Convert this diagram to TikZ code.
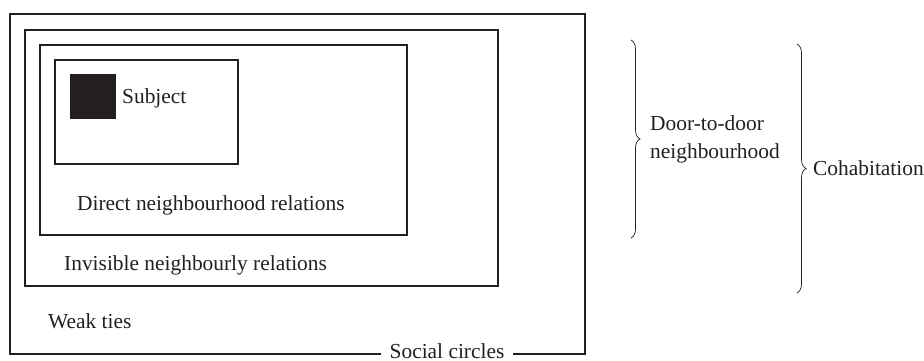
\documentclass[tikz,border=0pt]{standalone}
\usepackage{fontspec}
\setmainfont{Liberation Serif}
\usetikzlibrary{decorations.pathreplacing}
\definecolor{ink}{HTML}{231F20}
\begin{document}
\begin{tikzpicture}[x=1pt,y=-1pt,
  box/.style={draw=ink,line width=2pt,rectangle,inner sep=0pt,anchor=north west},
  lbl/.style={text=ink,font=\fontsize{21.4}{28}\selectfont,inner sep=0pt},
  bracepath/.style={draw=ink,line width=0.7pt,decorate,decoration={brace,amplitude=9pt}}]
\useasboundingbox (0,0) rectangle (924,361);
% boxes
\node[box,minimum width=575pt,minimum height=340pt] (outer) at (9,13) {};
\node[box,minimum width=473pt,minimum height=256pt] (invis) at (24,29) {};
\node[box,minimum width=367pt,minimum height=190pt] (direct) at (39,44) {};
\node[box,minimum width=183pt,minimum height=104pt] (home) at (54,59) {};
\node[fill=ink,minimum width=46pt,minimum height=45pt,inner sep=0pt,anchor=north west] (subjsq) at (70,74) {};
% labels
\node[lbl,anchor=base west] (subj) at (122,103) {Subject};
\node[lbl,anchor=base west] (ldirect) at (77,210) {Direct neighbourhood relations};
\node[lbl,anchor=base west] (linvis) at (64,270) {Invisible neighbourly relations};
\node[lbl,anchor=base west] (lweak) at (48,328) {Weak ties};
\node[lbl,anchor=base,fill=white,inner xsep=9pt,inner ysep=3pt] (lsocial) at (447,358) {Social circles};
% braces
\coordinate (b1t) at (631,40);
\coordinate (b1b) at (631,238);
\coordinate (b2t) at (797,44);
\coordinate (b2b) at (797,293);
\draw[bracepath] (b1t) -- (b1b);
\draw[bracepath] (b2t) -- (b2b);
\node[lbl,anchor=base west,align=left] (ldoor) at (650,158) {Door-to-door\\neighbourhood};
\node[lbl,anchor=base west] (lcohab) at (813,175) {Cohabitation};
\end{tikzpicture}
\end{document}
